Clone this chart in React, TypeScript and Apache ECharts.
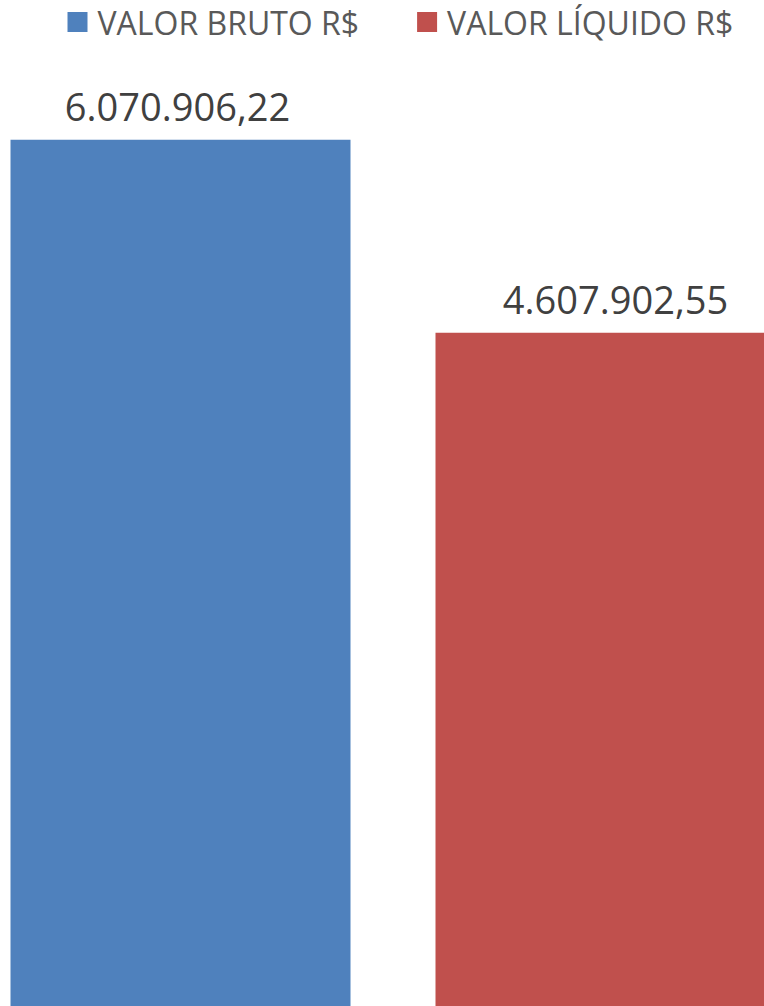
import React, { useEffect, useRef } from "react";
import * as echarts from "echarts";

const categories = ["VALOR BRUTO R$", "VALOR LÍQUIDO R$"];
const seriesNames = ["VALOR BRUTO R$", "VALOR LÍQUIDO R$"];
const values = [6070906.22, 4607902.55];
const colors = ["#4F81BD", "#C0504D"];

const fmt = (v: number) => {
  const [i, d] = v.toFixed(2).split(".");
  return i.replace(/\B(?=(\d{3})+(?!\d))/g, ".") + "," + d;
};

const SHIFT = 32.5;
const CW = 850;

export default function App() {
  const ref = useRef<HTMLDivElement>(null);
  useEffect(() => {
    if (!ref.current) return;
    const chart = echarts.init(ref.current, undefined, { renderer: "svg" });
    const labelOffsets = [[-3, 0], [10, 0]];
    chart.setOption({
      animation: false,
      backgroundColor: "#ffffff",
      legend: {
        left: 62 + SHIFT,
        top: 1,
        itemWidth: 20,
        itemHeight: 20,
        itemGap: 58,
        icon: "rect",
        textStyle: { fontFamily: "Open Sans", fontSize: 32, color: "#595959", padding: [0, 0, 0, 5] },
        data: seriesNames,
      },
      grid: { left: 0, right: 0, top: 17, bottom: 0, containLabel: false },
      xAxis: {
        type: "category",
        data: categories,
        show: false,
      },
      yAxis: {
        type: "value",
        min: -493000,
        max: 7000000,
        startValue: -493000,
        show: false,
        splitLine: { show: false },
      },
      series: seriesNames.map((name, si) => ({
        name,
        type: "bar",
        barWidth: 340,
        barGap: "-100%",
        itemStyle: { color: colors[si] },
        label: {
          show: true,
          position: "top",
          distance: 15,
          fontFamily: "Open Sans",
          fontSize: 38,
          color: "#404040",
          offset: labelOffsets[si],
          formatter: (p: any) => fmt(p.value),
        },
        data: categories.map((_, ci) => (ci === si ? values[si] : "-")),
      })),
    });
    return () => chart.dispose();
  }, []);
  return (
    <div style={{ position: "fixed", left: 0, top: 0, width: 764, height: 1006, overflow: "hidden", background: "#fff" }}>
      <div ref={ref} style={{ position: "absolute", left: -SHIFT, top: 0, width: CW, height: 1006 }} />
    </div>
  );
}
